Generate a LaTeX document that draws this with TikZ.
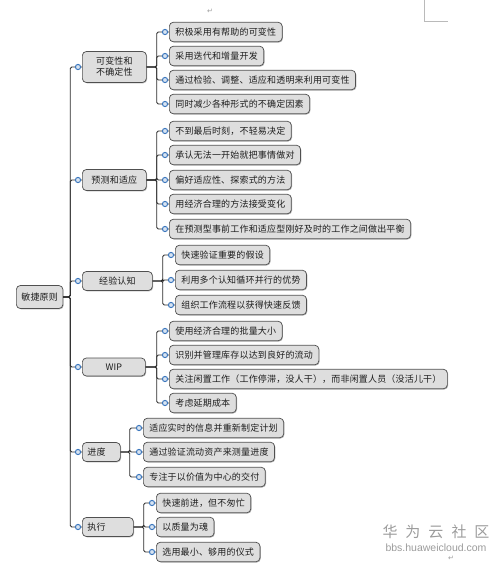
\documentclass[tikz,border=0pt]{standalone}
\usepackage{fontspec}
\setmainfont{Liberation Sans}
\newfontfamily\cjk[LetterSpace=2]{Noto Sans CJK SC}
\newfontfamily\symfont{DejaVu Sans}
\usetikzlibrary{shadows}
\definecolor{ink}{HTML}{1E1E1E}
\definecolor{boxfill}{HTML}{DEDEDE}
\definecolor{boxline}{HTML}{505050}
\definecolor{wireink}{HTML}{2B2B2B}
\definecolor{knobblue}{HTML}{3D78BE}
\definecolor{markgray}{HTML}{9C9C9C}
\newcommand{\twig}[3]{% #1 = parent, #2 = child, #3 = elbow offset
  \draw[wire] (#1.east) -- ++(#3,0) |- ([xshift=-4]#2.west) -- (#2.west);
  \draw[knob] ([xshift=-4]#2.west) circle (2.6);}

\begin{document}
\begin{tikzpicture}[x=1pt,y=-1pt,font=\cjk\fontsize{9}{11}\selectfont,
  box/.style={draw=boxline,fill=boxfill,rounded corners=4pt,line width=0.7pt,text=ink,
    inner xsep=6pt,inner ysep=2pt,minimum height=19.5pt,anchor=west,
    drop shadow={shadow xshift=0.8pt,shadow yshift=-0.8pt,opacity=0.3,fill=black}},
  topic/.style={box,inner xsep=5pt,align=center},
  leaf/.style={box},
  wire/.style={draw=wireink,line width=0.9pt,rounded corners=1.5pt},
  knob/.style={draw=knobblue,fill=knobblue!20,line width=1pt}]
  \fill[white] (0,0) rectangle (504,563);
  \useasboundingbox (0,0) rectangle (504,563);

  % root and first level
  \node[topic,minimum width=45,minimum height=23] (root) at (16,297) {敏捷原则};
  \node[topic,text width=54,minimum height=31,inner ysep=1pt] (vary) at (82,67) {可变性和\\不确定性};
  \node[topic,minimum width=64,minimum height=21] (adapt) at (82,180) {预测和适应};
  \node[topic,minimum width=70,minimum height=19] (learn) at (82,281) {经验认知};
  \node[topic,minimum width=63,minimum height=18] (wip) at (82,367) {WIP};
  \node[topic,text width=28,align=left,minimum height=19] (pace) at (82,452) {进度};
  \node[topic,text width=41,align=left,minimum height=19] (exec) at (82,527) {执行};

  % second level
  \node[leaf] (vary1) at (169,32) {积极采用有帮助的可变性};
  \node[leaf] (vary2) at (169,56) {采用迭代和增量开发};
  \node[leaf] (vary3) at (169,80) {通过检验、调整、适应和透明来利用可变性};
  \node[leaf] (vary4) at (169,104) {同时减少各种形式的不确定因素};

  \node[leaf] (adapt1) at (169,131) {不到最后时刻，不轻易决定};
  \node[leaf] (adapt2) at (169,155) {承认无法一开始就把事情做对};
  \node[leaf] (adapt3) at (169,180) {偏好适应性、探索式的方法};
  \node[leaf] (adapt4) at (169,204) {用经济合理的方法接受变化};
  \node[leaf] (adapt5) at (169,229) {在预测型事前工作和适应型刚好及时的工作之间做出平衡};

  \node[leaf] (learn1) at (175,255) {快速验证重要的假设};
  \node[leaf] (learn2) at (175,280) {利用多个认知循环并行的优势};
  \node[leaf] (learn3) at (175,305) {组织工作流程以获得快速反馈};

  \node[leaf] (wip1) at (169,331) {使用经济合理的批量大小};
  \node[leaf] (wip2) at (169,355) {识别并管理库存以达到良好的流动};
  \node[leaf] (wip3) at (169,379) {关注闲置工作（工作停滞，没人干），而非闲置人员（没活儿干）};
  \node[leaf] (wip4) at (169,403) {考虑延期成本};

  \node[leaf] (pace1) at (143,428) {适应实时的信息并重新制定计划};
  \node[leaf] (pace2) at (143,452) {通过验证流动资产来测量进度};
  \node[leaf] (pace3) at (143,477) {专注于以价值为中心的交付};

  \node[leaf] (exec1) at (156,503) {快速前进，但不匆忙};
  \node[leaf] (exec2) at (156,527) {以质量为魂};
  \node[leaf] (exec3) at (156,552) {选用最小、够用的仪式};

  % connectors
  \foreach \c in {vary,adapt,learn,wip,pace,exec} {\twig{root}{\c}{7}}
  \foreach \c in {vary1,vary2,vary3,vary4} {\twig{vary}{\c}{10}}
  \foreach \c in {adapt1,adapt2,adapt3,adapt4,adapt5} {\twig{adapt}{\c}{10}}
  \foreach \c in {learn1,learn2,learn3} {\twig{learn}{\c}{10}}
  \foreach \c in {wip1,wip2,wip3,wip4} {\twig{wip}{\c}{11}}
  \foreach \c in {pace1,pace2,pace3} {\twig{pace}{\c}{9}}
  \foreach \c in {exec1,exec2,exec3} {\twig{exec}{\c}{10}}

  % page marks and watermark
  \draw[markgray!70,line width=0.5pt] (424,0) -- (424,21) -- (448,21);
  \node[text=markgray,font=\symfont\fontsize{7}{8}\selectfont] (retTop) at (210,11) {↵};
  \node[text=markgray,font=\symfont\fontsize{7}{8}\selectfont] (retBot) at (451,558) {↵};
  \node[text=markgray,font=\cjk\fontsize{15}{17}\selectfont,inner sep=0pt] (wmark) at (436,532)
    {华\hspace{8pt}为\hspace{8pt}云\hspace{8pt}社\hspace{8pt}区};
  \node[text=markgray,font=\fontsize{10.5}{12}\selectfont,inner sep=0pt] (wsite) at (436,548)
    {bbs.huaweicloud.com};
\end{tikzpicture}
\end{document}
